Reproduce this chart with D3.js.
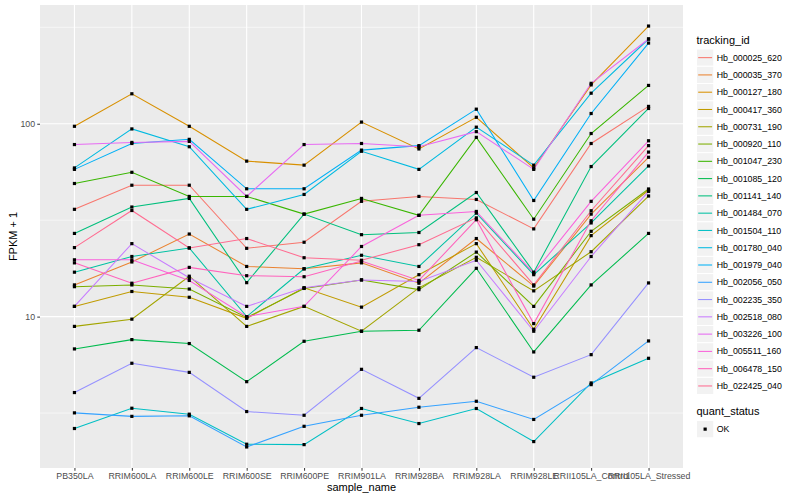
<!DOCTYPE html>
<html>
<head>
<meta charset="utf-8">
<script src="https://cdn.jsdelivr.net/npm/d3@7"></script>
<style>
    body {margin: 0; background: #fff;}
    svg {display: block; font-family: "Liberation Sans", Arial, sans-serif;}
</style>
</head>
<body>
<svg id="chart" width="800" height="500"></svg>
<script>
const samples = ["PB350LA", "RRIM600LA", "RRIM600LE", "RRIM600SE", "RRIM600PE", "RRIM901LA",
    "RRIM928BA", "RRIM928LA", "RRIM928LE", "RRII105LA_Control", "RRII105LA_Stressed"]
const trackingIds = ["Hb_000025_620", "Hb_000035_370", "Hb_000127_180", "Hb_000417_360", "Hb_000731_190",
    "Hb_000920_110", "Hb_001047_230", "Hb_001085_120", "Hb_001141_140", "Hb_001484_070",
    "Hb_001504_110", "Hb_001780_040", "Hb_001979_040", "Hb_002056_050", "Hb_002235_350",
    "Hb_002518_080", "Hb_003226_100", "Hb_005511_160", "Hb_006478_150", "Hb_022425_040"]
const yTicks = [10, 100]
const quantStatus = ["OK"]

// FPKM + 1, one value per sample
const hb_000025_620 = [36, 48, 48, 22.6, 24.3, 39.6, 42, 40.5, 28.5, 79, 123]
const hb_000035_370 = [14.6, 19.2, 26.8, 18.2, 17.7, 19, 14.9, 25.4, 14.4, 34, 67]
const hb_000127_180 = [97, 143, 97, 64, 61, 102, 74, 108, 59, 159, 321]
const hb_000417_360 = [11.3, 13.5, 12.6, 9.8, 14.1, 11.2, 16.5, 23.9, 8.6, 26.3, 45.2]
const hb_000731_190 = [8.9, 9.7, 16.2, 8.9, 11.3, 8.4, 14.1, 20.3, 13.6, 21.7, 42.2]
const hb_000920_110 = [14.3, 14.6, 13.9, 9.9, 14, 15.5, 13.8, 21.6, 11.3, 27.7, 45.9]
const hb_001047_230 = [49, 56, 42, 42, 34, 41, 33.5, 85, 32, 89, 158]
const hb_001085_120 = [6.8, 7.6, 7.25, 4.6, 7.45, 8.4, 8.5, 17.8, 6.56, 14.6, 27]
const hb_001141_140 = [27, 37, 41, 15, 34, 26.6, 27.3, 44, 17, 60, 120]
const hb_001484_070 = [17, 20.5, 22.7, 10, 17.7, 20.8, 18.2, 34.4, 16.5, 30.6, 60.4]
const hb_001504_110 = [2.63, 3.35, 3.12, 2.18, 2.17, 3.34, 2.79, 3.34, 2.25, 4.53, 6.08]
const hb_001780_040 = [59, 94, 76, 36, 43, 72, 58, 96, 61, 144, 275]
const hb_001979_040 = [58, 79, 83, 46, 46, 73, 77, 119, 40, 113, 262]
const hb_002056_050 = [3.17, 3.04, 3.06, 2.11, 2.7, 3.08, 3.39, 3.64, 2.93, 4.44, 7.48]
const hb_002235_350 = [4.04, 5.73, 5.14, 3.22, 3.08, 5.33, 3.77, 6.91, 4.85, 6.35, 14.95]
const hb_002518_080 = [11.3, 23.9, 15.9, 11.3, 14.1, 15.5, 15.2, 19.6, 8.4, 20.5, 44.6]
const hb_003226_100 = [78, 80, 81, 42, 78, 79, 76, 91, 58, 162, 275]
const hb_005511_160 = [19.7, 19.7, 15.4, 10, 11.3, 23.1, 33.5, 35.1, 16.8, 39.6, 81.6]
const hb_006478_150 = [19, 14.9, 18, 16.3, 16.1, 19.4, 15.4, 31.8, 9.2, 31.4, 71.3]
const hb_022425_040 = [22.8, 35.5, 22.7, 25.4, 20.2, 19.6, 23.6, 32.5, 14.6, 35.4, 77]

const fpkm = [hb_000025_620, hb_000035_370, hb_000127_180, hb_000417_360, hb_000731_190,
    hb_000920_110, hb_001047_230, hb_001085_120, hb_001141_140, hb_001484_070,
    hb_001504_110, hb_001780_040, hb_001979_040, hb_002056_050, hb_002235_350,
    hb_002518_080, hb_003226_100, hb_005511_160, hb_006478_150, hb_022425_040]

// ggplot hue palette for 20 levels
const palette = ["#F8766D", "#EA8331", "#D89000", "#C09B00", "#A3A500", "#7CAE00", "#39B600", "#00BB4E",
    "#00BF7D", "#00C1A3", "#00BFC4", "#00BAE0", "#00B0F6", "#35A2FF", "#9590FF", "#C77CFF",
    "#E76BF3", "#FA62DB", "#FF62BC", "#FF6C91"]

const panel = {left: 40, right: 683, top: 5, bottom: 468}
const svg = d3.select("#chart")

//scales
const x = d3.scalePoint()
    .domain(samples)
    .range([panel.left, panel.right])
    .padding(0.6)
const [lo, hi] = d3.extent(fpkm.flat()).map(Math.log10)
const pad = (hi - lo) * 0.05
const y = d3.scaleLog()
    .domain([10 ** (lo - pad), 10 ** (hi + pad)])
    .range([panel.bottom, panel.top])

//panel + grid
svg.append("rect")
    .attr("x", panel.left).attr("y", panel.top)
    .attr("width", panel.right - panel.left).attr("height", panel.bottom - panel.top)
    .attr("fill", "#EBEBEB")
const minor = [0.5, 1.5, 2.5].map(p => 10 ** p)
svg.append("g").selectAll("line").data(minor).join("line")
    .attr("x1", panel.left).attr("x2", panel.right)
    .attr("y1", d => y(d)).attr("y2", d => y(d))
    .attr("stroke", "#fff").attr("stroke-width", 0.55)
svg.append("g").selectAll("line").data(yTicks).join("line")
    .attr("x1", panel.left).attr("x2", panel.right)
    .attr("y1", d => y(d)).attr("y2", d => y(d))
    .attr("stroke", "#fff").attr("stroke-width", 1.1)
svg.append("g").selectAll("line").data(samples).join("line")
    .attr("x1", d => x(d)).attr("x2", d => x(d))
    .attr("y1", panel.top).attr("y2", panel.bottom)
    .attr("stroke", "#fff").attr("stroke-width", 1.1)

//axes
const xAxis = d3.axisBottom(x).tickSize(2.75).tickPadding(2.2)
const yAxis = d3.axisLeft(y).tickValues(yTicks).tickFormat(d3.format("d")).tickSize(2.75).tickPadding(2.2)
const gx = svg.append("g")
    .attr("transform", `translate(0, ${panel.bottom})`)
    .call(xAxis)
const gy = svg.append("g")
    .attr("transform", `translate(${panel.left}, 0)`)
    .call(yAxis)
for (const g of [gx, gy]) {
    g.select(".domain").remove()
    g.selectAll(".tick line").attr("stroke", "#333")
    g.selectAll(".tick text").attr("fill", "#4D4D4D").style("font-size", "8.8px").style("font-family", null)
    g.attr("font-family", null)
}

svg.append("text")
    .attr("x", (panel.left + panel.right) / 2).attr("y", 491)
    .attr("text-anchor", "middle").style("font-size", "11px")
    .text("sample_name")
svg.append("text")
    .attr("transform", `translate(17, ${(panel.top + panel.bottom) / 2}) rotate(-90)`)
    .attr("text-anchor", "middle").style("font-size", "11px")
    .text("FPKM + 1")

//lines and points
const line = d3.line()
    .x((d, i) => x(samples[i]))
    .y(d => y(d))
svg.append("g").selectAll("path").data(fpkm).join("path")
    .attr("d", d => line(d))
    .attr("fill", "none")
    .attr("stroke", (d, i) => palette[i])
    .attr("stroke-width", 1.05)
const pts = fpkm.flatMap(vals => vals.map((v, i) => ({s: samples[i], v})))
svg.append("g").selectAll("rect").data(pts).join("rect")
    .attr("x", d => x(d.s) - 1.6).attr("y", d => y(d.v) - 1.6)
    .attr("width", 3.2).attr("height", 3.2)
    .attr("fill", "#000")

//legend
const key = 17.28, keyX = 696.5
const legend = svg.append("g")
legend.append("text").attr("x", keyX).attr("y", 43.5).style("font-size", "11px").text("tracking_id")
const item = legend.selectAll("g.item").data(trackingIds).join("g")
    .attr("class", "item")
    .attr("transform", (d, i) => `translate(${keyX}, ${49 + i * key})`)
item.append("rect")
    .attr("width", key).attr("height", key)
    .attr("fill", "#F2F2F2").attr("stroke", "#fff")
item.append("line")
    .attr("x1", 1.7).attr("x2", key - 1.7)
    .attr("y1", key / 2).attr("y2", key / 2)
    .attr("stroke", (d, i) => palette[i]).attr("stroke-width", 1.05)
item.append("text")
    .attr("x", key + 3).attr("y", key / 2).attr("dy", "0.35em")
    .style("font-size", "8.8px")
    .text(d => d)

legend.append("text").attr("x", keyX).attr("y", 415).style("font-size", "11px").text("quant_status")
const q = legend.selectAll("g.q").data(quantStatus).join("g")
    .attr("class", "q")
    .attr("transform", (d, i) => `translate(${keyX}, ${420.5 + i * key})`)
q.append("rect")
    .attr("width", key).attr("height", key)
    .attr("fill", "#F2F2F2").attr("stroke", "#fff")
q.append("rect")
    .attr("x", key / 2 - 1.6).attr("y", key / 2 - 1.6)
    .attr("width", 3.2).attr("height", 3.2).attr("fill", "#000")
q.append("text")
    .attr("x", key + 3).attr("y", key / 2).attr("dy", "0.35em")
    .style("font-size", "8.8px")
    .text(d => d)
</script>
</body>
</html>
